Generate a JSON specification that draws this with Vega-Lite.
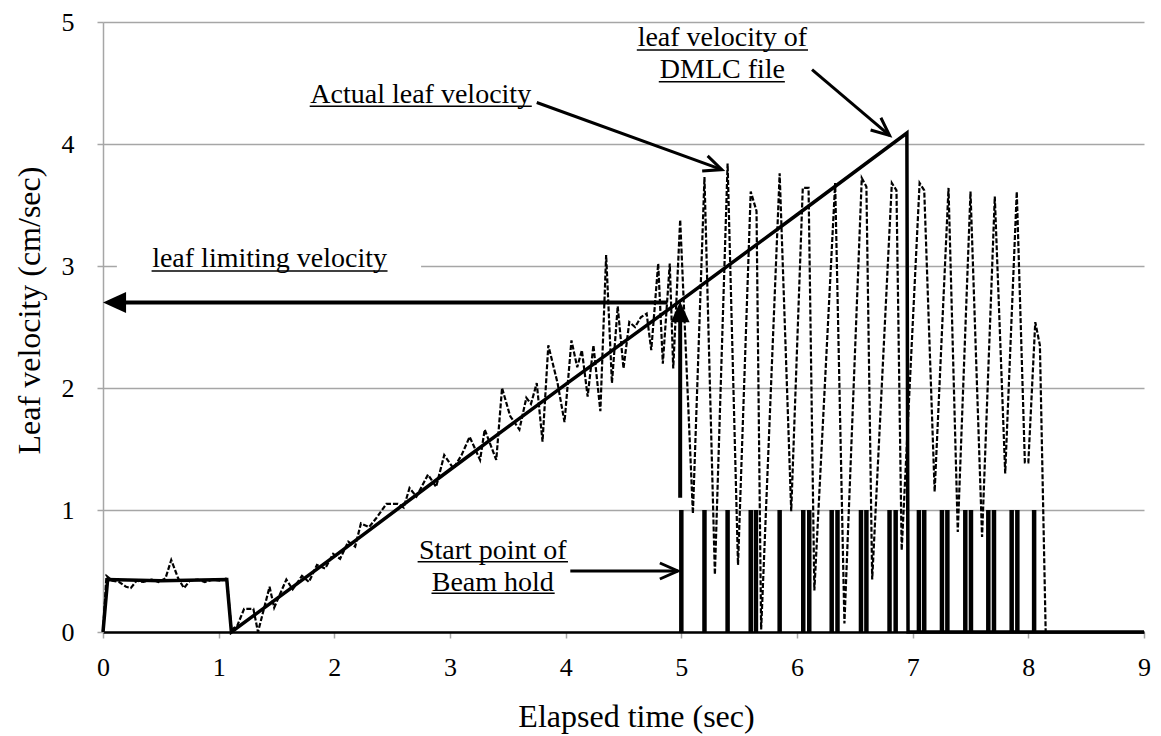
{
  "$schema": "https://vega.github.io/schema/vega-lite/v6.json",
  "autosize": "none",
  "width": 1041,
  "height": 610,
  "padding": {"left": 103, "top": 22, "right": 17, "bottom": 104},
  "background": "white",
  "config": {
    "view": {"stroke": null},
    "font": "Liberation Serif",
    "axis": {"labelFont": "Liberation Serif", "titleFont": "Liberation Serif"}
  },
  "datasets": {
    "one": [{}],
    "dmlc": [
      {"t": 0.0, "v": 0.0},
      {"t": 0.04, "v": 0.43},
      {"t": 0.5, "v": 0.42},
      {"t": 1.07, "v": 0.43},
      {"t": 1.11, "v": 0.0},
      {"t": 2.0, "v": 0.62},
      {"t": 3.0, "v": 1.33},
      {"t": 4.0, "v": 2.03},
      {"t": 5.0, "v": 2.72},
      {"t": 6.0, "v": 3.42},
      {"t": 6.95, "v": 4.09},
      {"t": 6.96, "v": 0.0},
      {"t": 9.0, "v": 0.0}
    ],
    "actual": [
      {"t": 0.00, "v": 0.00}, {"t": 0.03, "v": 0.46}, {"t": 0.08, "v": 0.42}, {"t": 0.14, "v": 0.41},
      {"t": 0.20, "v": 0.37}, {"t": 0.24, "v": 0.36}, {"t": 0.29, "v": 0.42}, {"t": 0.35, "v": 0.41},
      {"t": 0.42, "v": 0.43}, {"t": 0.48, "v": 0.41}, {"t": 0.54, "v": 0.44}, {"t": 0.59, "v": 0.59},
      {"t": 0.65, "v": 0.44}, {"t": 0.70, "v": 0.36}, {"t": 0.75, "v": 0.42}, {"t": 0.82, "v": 0.43},
      {"t": 0.88, "v": 0.41}, {"t": 0.95, "v": 0.43}, {"t": 1.02, "v": 0.42}, {"t": 1.07, "v": 0.44},
      {"t": 1.11, "v": 0.02}, {"t": 1.16, "v": 0.05}, {"t": 1.22, "v": 0.19}, {"t": 1.30, "v": 0.19},
      {"t": 1.34, "v": 0.00}, {"t": 1.44, "v": 0.37}, {"t": 1.48, "v": 0.20}, {"t": 1.585, "v": 0.43},
      {"t": 1.64, "v": 0.35}, {"t": 1.72, "v": 0.46}, {"t": 1.78, "v": 0.41}, {"t": 1.85, "v": 0.55},
      {"t": 1.92, "v": 0.52}, {"t": 1.99, "v": 0.64}, {"t": 2.05, "v": 0.60}, {"t": 2.12, "v": 0.74},
      {"t": 2.18, "v": 0.70}, {"t": 2.23, "v": 0.89}, {"t": 2.30, "v": 0.86}, {"t": 2.36, "v": 0.93},
      {"t": 2.45, "v": 1.05}, {"t": 2.55, "v": 1.05}, {"t": 2.60, "v": 1.02}, {"t": 2.65, "v": 1.18},
      {"t": 2.71, "v": 1.11}, {"t": 2.81, "v": 1.29}, {"t": 2.88, "v": 1.19}, {"t": 2.95, "v": 1.45},
      {"t": 3.03, "v": 1.34}, {"t": 3.10, "v": 1.45}, {"t": 3.17, "v": 1.60}, {"t": 3.26, "v": 1.41},
      {"t": 3.30, "v": 1.66}, {"t": 3.40, "v": 1.41}, {"t": 3.45, "v": 2.00}, {"t": 3.52, "v": 1.77},
      {"t": 3.60, "v": 1.66}, {"t": 3.66, "v": 1.92}, {"t": 3.70, "v": 1.87}, {"t": 3.75, "v": 2.04},
      {"t": 3.80, "v": 1.56}, {"t": 3.85, "v": 2.35}, {"t": 3.93, "v": 2.04}, {"t": 3.99, "v": 1.72},
      {"t": 4.05, "v": 2.39}, {"t": 4.10, "v": 2.17}, {"t": 4.14, "v": 2.31}, {"t": 4.19, "v": 1.93},
      {"t": 4.24, "v": 2.35}, {"t": 4.30, "v": 1.81}, {"t": 4.35, "v": 3.09}, {"t": 4.40, "v": 2.04},
      {"t": 4.45, "v": 2.67}, {"t": 4.50, "v": 2.16}, {"t": 4.55, "v": 2.54}, {"t": 4.60, "v": 2.50},
      {"t": 4.65, "v": 2.58}, {"t": 4.70, "v": 2.61}, {"t": 4.74, "v": 2.31}, {"t": 4.80, "v": 3.02},
      {"t": 4.84, "v": 2.20}, {"t": 4.90, "v": 3.02}, {"t": 4.93, "v": 2.16}, {"t": 4.99, "v": 3.38},
      {"t": 5.10, "v": 0.97}, {"t": 5.20, "v": 3.73}, {"t": 5.29, "v": 0.47}, {"t": 5.40, "v": 3.84},
      {"t": 5.49, "v": 0.55}, {"t": 5.60, "v": 3.61}, {"t": 5.65, "v": 3.45}, {"t": 5.69, "v": 0.02},
      {"t": 5.85, "v": 3.76}, {"t": 5.95, "v": 0.99}, {"t": 6.05, "v": 3.64}, {"t": 6.10, "v": 3.64},
      {"t": 6.15, "v": 0.34}, {"t": 6.33, "v": 3.68}, {"t": 6.41, "v": 0.07}, {"t": 6.56, "v": 3.72},
      {"t": 6.60, "v": 3.65}, {"t": 6.65, "v": 0.43}, {"t": 6.82, "v": 3.68}, {"t": 6.86, "v": 3.62},
      {"t": 6.905, "v": 0.67}, {"t": 7.06, "v": 3.68}, {"t": 7.10, "v": 3.62}, {"t": 7.19, "v": 1.15},
      {"t": 7.31, "v": 3.64}, {"t": 7.39, "v": 0.82}, {"t": 7.50, "v": 3.61}, {"t": 7.60, "v": 0.78},
      {"t": 7.71, "v": 3.57}, {"t": 7.80, "v": 1.30}, {"t": 7.90, "v": 3.61}, {"t": 7.97, "v": 1.39},
      {"t": 8.00, "v": 1.39}, {"t": 8.06, "v": 2.54}, {"t": 8.10, "v": 2.35}, {"t": 8.15, "v": 0.00},
      {"t": 9.00, "v": 0.00}
    ],
    "beam": [
      {"t": 5.0}, {"t": 5.2}, {"t": 5.4}, {"t": 5.6}, {"t": 5.645}, {"t": 5.85}, {"t": 6.054}, {"t": 6.106},
      {"t": 6.3}, {"t": 6.35}, {"t": 6.553}, {"t": 6.6}, {"t": 6.8}, {"t": 6.853}, {"t": 7.054}, {"t": 7.1},
      {"t": 7.253}, {"t": 7.3}, {"t": 7.455}, {"t": 7.504}, {"t": 7.654}, {"t": 7.703}, {"t": 7.856}, {"t": 7.905}, {"t": 8.05}
    ]
  },
  "layer": [
    {
      "data": {"name": "dmlc"},
      "mark": {"type": "line", "color": "black", "strokeWidth": 3.5, "strokeJoin": "miter"},
      "encoding": {
        "x": {
          "field": "t", "type": "quantitative",
          "scale": {"domain": [0, 9], "nice": false, "zero": false},
          "axis": {
            "title": "Elapsed time (sec)", "values": [0, 1, 2, 3, 4, 5, 6, 7, 8, 9], "format": "d",
            "grid": false, "domainColor": "black", "domainWidth": 2.5,
            "tickColor": "#a6a6a6", "tickSize": 6, "tickWidth": 1.5,
            "labelFont": "Liberation Serif", "labelFontSize": 26, "labelColor": "black",
            "labelBaseline": "alphabetic", "labelPadding": 37, "labelFlush": false,
            "titleFont": "Liberation Serif", "titleFontSize": 32, "titleFontWeight": "normal", "titleColor": "black",
            "titleX": 533, "titleY": 94, "titleBaseline": "alphabetic", "titleAlign": "center"
          }
        },
        "y": {
          "field": "v", "type": "quantitative",
          "scale": {"domain": [0, 5], "nice": false},
          "axis": {
            "title": "Leaf velocity (cm/sec)", "values": [0, 1, 2, 3, 4, 5], "format": "d",
            "grid": true, "gridColor": "#a6a6a6", "gridWidth": 1.5,
            "domainColor": "#a6a6a6", "domainWidth": 1.5,
            "tickColor": "#a6a6a6", "tickSize": 6, "tickWidth": 1.5,
            "labelFont": "Liberation Serif", "labelFontSize": 26, "labelColor": "black",
            "labelPadding": 23, "labelFlush": false,
            "titleFont": "Liberation Serif", "titleFontSize": 32, "titleFontWeight": "normal", "titleColor": "black",
            "titleX": -64, "titleY": 288, "titleBaseline": "alphabetic", "titleAlign": "center", "titleAngle": -90
          }
        }
      }
    },
    {
      "data": {"name": "actual"},
      "mark": {"type": "line", "color": "black", "strokeWidth": 2.2, "strokeDash": [5, 2]},
      "encoding": {
        "x": {"field": "t", "type": "quantitative"},
        "y": {"field": "v", "type": "quantitative"}
      }
    },
    {
      "data": {"name": "beam"},
      "mark": {"type": "rule", "color": "black", "strokeWidth": 4.5},
      "encoding": {
        "x": {"field": "t", "type": "quantitative"},
        "y": {"datum": 0},
        "y2": {"datum": 1}
      }
    },
    {
      "data": {"name": "one"},
      "mark": {"type": "rect", "color": "white"},
      "encoding": {
        "x": {"datum": 0.12}, "x2": {"datum": 2.75},
        "y": {"datum": 2.93}, "y2": {"datum": 3.08}
      }
    },
    {
      "data": {"name": "one"},
      "mark": {"type": "text", "font": "Liberation Serif", "fontSize": 28, "color": "black", "align": "center", "baseline": "alphabetic"},
      "encoding": {
        "x": {"datum": 1.44}, "y": {"datum": 2.99},
        "text": {"value": "leaf limiting velocity"}
      }
    },
    {
      "data": {"name": "one"},
      "mark": {"type": "text", "font": "Liberation Serif", "fontSize": 28, "color": "black", "align": "center", "baseline": "alphabetic"},
      "encoding": {
        "x": {"datum": 2.747}, "y": {"datum": 4.34},
        "text": {"value": "Actual leaf velocity"}
      }
    },
    {
      "data": {"name": "one"},
      "mark": {"type": "text", "font": "Liberation Serif", "fontSize": 28, "color": "black", "align": "center", "baseline": "alphabetic"},
      "encoding": {
        "x": {"datum": 5.355}, "y": {"datum": 4.80},
        "text": {"value": "leaf velocity of"}
      }
    },
    {
      "data": {"name": "one"},
      "mark": {"type": "text", "font": "Liberation Serif", "fontSize": 28, "color": "black", "align": "center", "baseline": "alphabetic"},
      "encoding": {
        "x": {"datum": 5.355}, "y": {"datum": 4.54},
        "text": {"value": "DMLC file"}
      }
    },
    {
      "data": {"name": "one"},
      "mark": {"type": "text", "font": "Liberation Serif", "fontSize": 28, "color": "black", "align": "center", "baseline": "alphabetic"},
      "encoding": {
        "x": {"datum": 3.37}, "y": {"datum": 0.596},
        "text": {"value": "Start point of"}
      }
    },
    {
      "data": {"name": "one"},
      "mark": {"type": "text", "font": "Liberation Serif", "fontSize": 28, "color": "black", "align": "center", "baseline": "alphabetic"},
      "encoding": {
        "x": {"datum": 3.37}, "y": {"datum": 0.339},
        "text": {"value": "Beam hold"}
      }
    },
    {
      "data": {"name": "one"},
      "mark": {"type": "rule", "color": "black", "strokeWidth": 1.5},
      "encoding": {"x": {"datum": 0.42}, "x2": {"datum": 2.46}, "y": {"datum": 2.96}}
    },
    {
      "data": {"name": "one"},
      "mark": {"type": "rule", "color": "black", "strokeWidth": 1.5},
      "encoding": {"x": {"datum": 1.787}, "x2": {"datum": 3.707}, "y": {"datum": 4.31}}
    },
    {
      "data": {"name": "one"},
      "mark": {"type": "rule", "color": "black", "strokeWidth": 1.5},
      "encoding": {"x": {"datum": 4.615}, "x2": {"datum": 6.095}, "y": {"datum": 4.77}}
    },
    {
      "data": {"name": "one"},
      "mark": {"type": "rule", "color": "black", "strokeWidth": 1.5},
      "encoding": {"x": {"datum": 4.805}, "x2": {"datum": 5.895}, "y": {"datum": 4.51}}
    },
    {
      "data": {"name": "one"},
      "mark": {"type": "rule", "color": "black", "strokeWidth": 1.5},
      "encoding": {"x": {"datum": 2.72}, "x2": {"datum": 4.02}, "y": {"datum": 0.576}}
    },
    {
      "data": {"name": "one"},
      "mark": {"type": "rule", "color": "black", "strokeWidth": 1.5},
      "encoding": {"x": {"datum": 2.84}, "x2": {"datum": 3.905}, "y": {"datum": 0.317}}
    },
    {
      "data": {"name": "one"},
      "mark": {"type": "rule", "color": "black", "strokeWidth": 4},
      "encoding": {"x": {"datum": 0.15}, "x2": {"datum": 4.88}, "y": {"datum": 2.70}}
    },
    {
      "data": {"name": "one"},
      "mark": {"type": "point", "shape": "M0,0L2.2,-1L2.2,1Z", "size": 440, "filled": true, "color": "black", "opacity": 1},
      "encoding": {"x": {"datum": 0.0}, "y": {"datum": 2.70}}
    },
    {
      "data": {"name": "one"},
      "mark": {"type": "rule", "color": "black", "strokeWidth": 4},
      "encoding": {"x": {"datum": 4.99}, "y": {"datum": 1.10}, "y2": {"datum": 2.6}}
    },
    {
      "data": {"name": "one"},
      "mark": {"type": "point", "shape": "M0,0L-0.9,2L0.9,2Z", "size": 440, "filled": true, "color": "black", "opacity": 1},
      "encoding": {"x": {"datum": 4.99}, "y": {"datum": 2.71}}
    },
    {
      "data": {"name": "one"},
      "mark": {"type": "rule", "color": "black", "strokeWidth": 3},
      "encoding": {"x": {"datum": 3.75}, "y": {"datum": 4.34}, "x2": {"datum": 5.35}, "y2": {"datum": 3.79}}
    },
    {
      "data": {"name": "one"},
      "mark": {"type": "point", "shape": "M-1.8,-0.8L0,0L-1.8,0.8", "size": 400, "filled": false, "color": "black", "strokeWidth": 3, "opacity": 1, "angle": 20},
      "encoding": {"x": {"datum": 5.35}, "y": {"datum": 3.79}}
    },
    {
      "data": {"name": "one"},
      "mark": {"type": "rule", "color": "black", "strokeWidth": 3},
      "encoding": {"x": {"datum": 6.13}, "y": {"datum": 4.61}, "x2": {"datum": 6.80}, "y2": {"datum": 4.07}}
    },
    {
      "data": {"name": "one"},
      "mark": {"type": "point", "shape": "M-1.8,-0.8L0,0L-1.8,0.8", "size": 400, "filled": false, "color": "black", "strokeWidth": 3, "opacity": 1, "angle": 40},
      "encoding": {"x": {"datum": 6.80}, "y": {"datum": 4.07}}
    },
    {
      "data": {"name": "one"},
      "mark": {"type": "rule", "color": "black", "strokeWidth": 3},
      "encoding": {"x": {"datum": 4.04}, "x2": {"datum": 4.97}, "y": {"datum": 0.50}}
    },
    {
      "data": {"name": "one"},
      "mark": {"type": "point", "shape": "M-1.8,-0.8L0,0L-1.8,0.8", "size": 400, "filled": false, "color": "black", "strokeWidth": 3, "opacity": 1, "angle": 0},
      "encoding": {"x": {"datum": 4.97}, "y": {"datum": 0.50}}
    }
  ]
}
